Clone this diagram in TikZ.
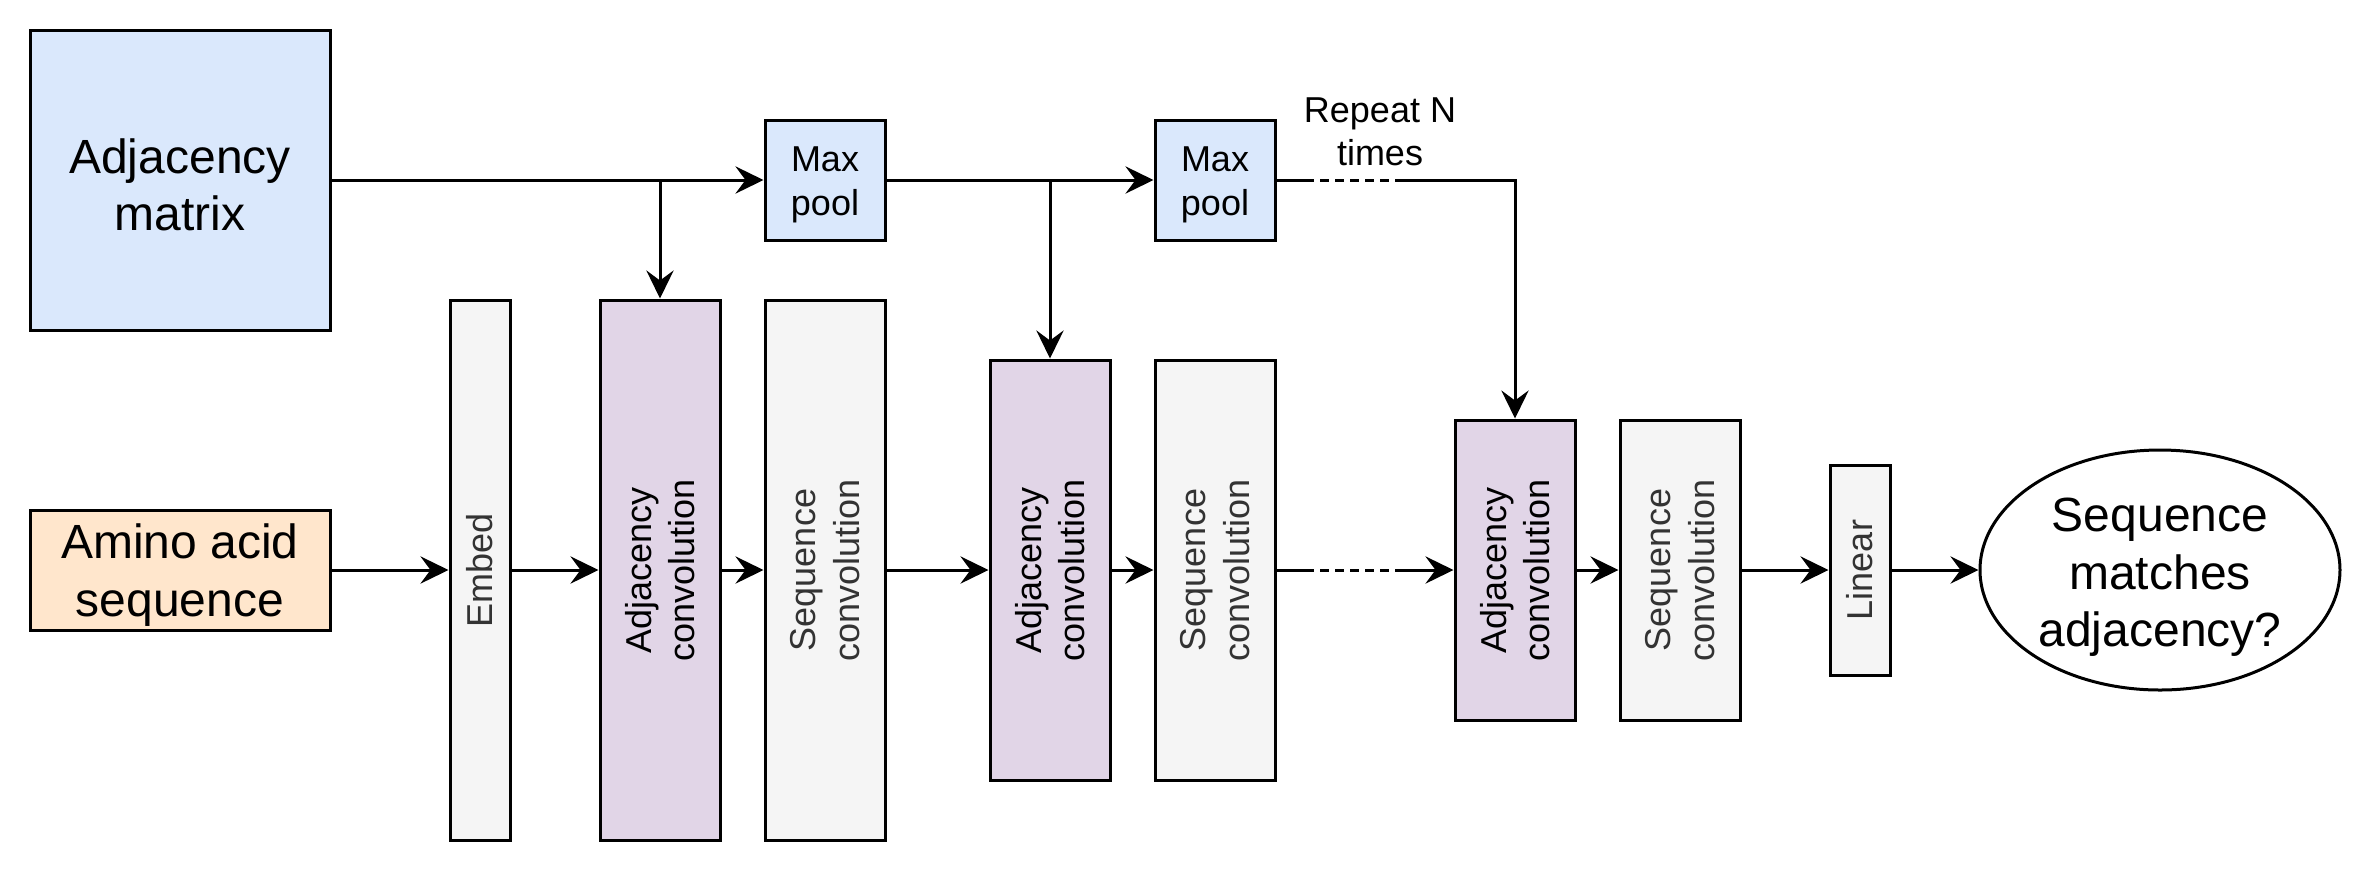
\documentclass[tikz,border=0pt]{standalone}
\usepackage{fontspec}
\setmainfont{Liberation Sans}
\usetikzlibrary{arrows.meta,shapes.geometric}
\definecolor{bluefill}{HTML}{DAE8FC}
\definecolor{orangefill}{HTML}{FFE6CC}
\definecolor{purplefill}{HTML}{E1D5E7}
\definecolor{grayfill}{HTML}{F5F5F5}
\definecolor{graytext}{HTML}{333333}
\tikzset{
  box/.style={draw=black, line width=0.75pt, inner sep=0pt, align=center, rectangle},
  bigtext/.style={font=\fontsize{12pt}{14.4pt}\selectfont},
  midtext/.style={font=\fontsize{9pt}{10.8pt}\selectfont},
  hlab/.style={align=center, inner sep=0pt, yshift=-1.2pt},
  biglab/.style={hlab, bigtext},
  midlab/.style={hlab, midtext},
  bluebox/.style={box, fill=bluefill},
  orangebox/.style={box, fill=orangefill},
  purplebox/.style={box, fill=purplefill},
  graybox/.style={box, fill=grayfill},
  vlab/.style={rotate=90, align=center, inner sep=0pt, midtext},
  vlabgray/.style={vlab, text=graytext},
  arr/.style={line width=0.75pt, -{Stealth[length=7pt,width=6.8pt,inset=2.5pt]}},
  ln/.style={line width=0.75pt},
  dln/.style={line width=0.75pt, dash pattern=on 2.2pt off 1.55pt},
}
\begin{document}
\begin{tikzpicture}[x=0.75pt,y=-0.75pt]
\useasboundingbox[fill=white] (0,0) rectangle (790,290);

% input boxes
\node[bluebox, minimum width=75pt, minimum height=75pt, label={[biglab]center:{Adjacency\\matrix}}] (am) at (60,60) {};
\node[orangebox, minimum width=75pt, minimum height=30pt, label={[biglab]center:{Amino acid\\sequence}}] (aa) at (60,190) {};

% max pools
\node[bluebox, minimum width=30pt, minimum height=30pt, label={[midlab]center:{Max\\pool}}] (mp1) at (275,60) {};
\node[bluebox, minimum width=30pt, minimum height=30pt, label={[midlab]center:{Max\\pool}}] (mp2) at (405,60) {};

% pipeline
\node[graybox, minimum width=15pt, minimum height=135pt, label={[vlabgray]center:Embed}] (emb) at (160,190) {};
\node[purplebox, minimum width=30pt, minimum height=135pt, label={[vlab]center:{Adjacency\\convolution}}] (ac1) at (220,190) {};
\node[graybox, minimum width=30pt, minimum height=135pt, label={[vlabgray]center:{Sequence\\convolution}}] (sc1) at (275,190) {};
\node[purplebox, minimum width=30pt, minimum height=105pt, label={[vlab]center:{Adjacency\\convolution}}] (ac2) at (350,190) {};
\node[graybox, minimum width=30pt, minimum height=105pt, label={[vlabgray]center:{Sequence\\convolution}}] (sc2) at (405,190) {};
\node[purplebox, minimum width=30pt, minimum height=75pt, label={[vlab]center:{Adjacency\\convolution}}] (ac3) at (505,190) {};
\node[graybox, minimum width=30pt, minimum height=75pt, label={[vlabgray]center:{Sequence\\convolution}}] (sc3) at (560,190) {};
\node[graybox, minimum width=15pt, minimum height=52.5pt, label={[vlabgray]center:Linear}] (lin) at (620,190) {};
\node[draw=black, line width=0.75pt, ellipse, inner sep=0pt, minimum width=90pt, minimum height=60pt,
      label={[biglab, yshift=-0.7pt]center:{Sequence\\matches\\adjacency?}}] (out) at (720,190) {};

% label
\node[midtext, align=center, inner sep=0pt] (rep) at (460,44) {Repeat N\\times};

% helper coordinates
\coordinate (b1) at (am.east -| ac1.north);
\coordinate (b2) at (mp1.east -| ac2.north);
\coordinate (d1) at (435,60);
\coordinate (d2) at (466,60);
\coordinate (d3) at (435,190);
\coordinate (d4) at (466,190);

% top connectors
\draw[arr] (am.east) -- (mp1.west);
\draw[arr] (b1) -- (ac1.north);
\draw[arr] (mp1.east) -- (mp2.west);
\draw[arr] (b2) -- (ac2.north);
\draw[ln] (mp2.east) -- (d1);
\draw[dln] (d1) -- (d2);
\draw[arr] (d2) -| (ac3.north);

% bottom connectors
\draw[arr] (aa.east) -- (emb.west);
\draw[arr] (emb.east) -- (ac1.west);
\draw[arr] (ac1.east) -- (sc1.west);
\draw[arr] (sc1.east) -- (ac2.west);
\draw[arr] (ac2.east) -- (sc2.west);
\draw[ln] (sc2.east) -- (d3);
\draw[dln] (d3) -- (d4);
\draw[arr] (d4) -- (ac3.west);
\draw[arr] (ac3.east) -- (sc3.west);
\draw[arr] (sc3.east) -- (lin.west);
\draw[arr] (lin.east) -- (out.west);
\end{tikzpicture}
\end{document}
